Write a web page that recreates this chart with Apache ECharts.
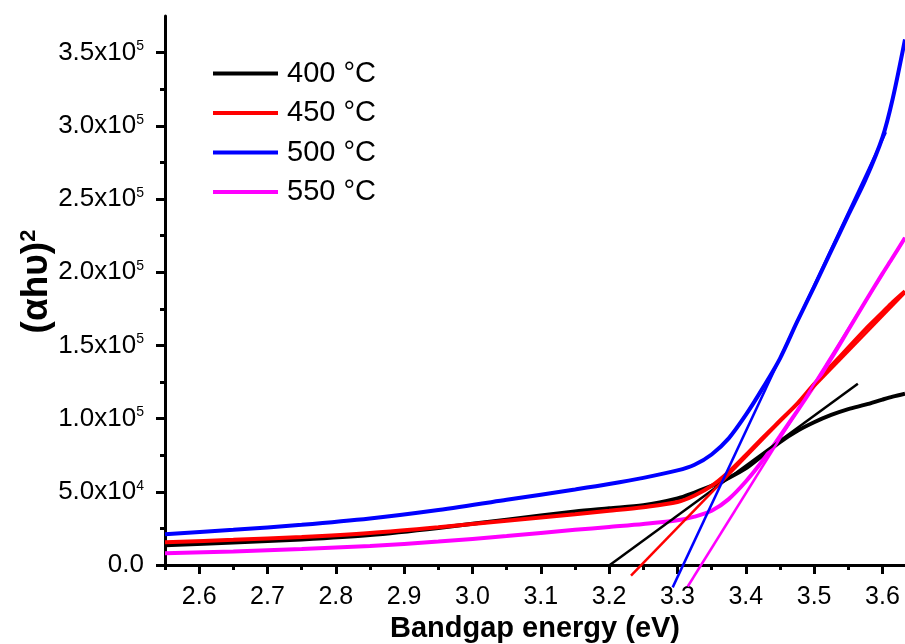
<!DOCTYPE html>
<html>
<head>
<meta charset="utf-8">
<script src="https://cdn.jsdelivr.net/npm/echarts@6/dist/echarts.min.js"></script>
<style>
  html, body { margin: 0; padding: 0; background: #fff; }
  #chart { width: 905px; height: 644px; }
</style>
</head>
<body>
<div id="chart"></div>
<script>
// (αhυ)^2 vs bandgap energy, four annealing temperatures

var energy = [2.55, 2.65, 2.75, 2.85, 2.95, 3.05, 3.15, 3.2, 3.25, 3.3, 3.325, 3.35, 3.375,
              3.4, 3.425, 3.45, 3.475, 3.5, 3.525, 3.55, 3.575, 3.6, 3.615, 3.633];
var t400 = [13500, 15300, 17500, 20500, 25300, 31000, 36600, 38700, 40800, 45500, 49500, 54000, 59500,
            66000, 75000, 84000, 91500, 97500, 102500, 106500, 109500, 113000, 115000, 117000];
var t450 = [15500, 17200, 19200, 21900, 25800, 30300, 34700, 37000, 39500, 43000, 47500, 54000, 63500,
            75000, 87000, 98500, 110000, 123500, 136000, 148500, 161000, 172500, 179500, 187000];
var t500 = [21000, 24000, 27500, 31800, 37600, 44500, 51600, 55300, 59500, 64600, 68500, 75500, 86500,
            102500, 121000, 141000, 166000, 190000, 214500, 239000, 263000, 292000, 318500, 359000];
var t550 = [8000, 9300, 10900, 13000, 16000, 19800, 24000, 26000, 28000, 30500, 33000, 37000, 45000,
            57000, 71500, 88000, 105000, 122500, 141000, 160500, 180000, 199000, 210000, 223500];

// linear fits (tangents), two end points each
var fitE400 = [3.201, 3.564], fitV400 = [0, 123800];
var fitE450 = [3.232, 3.633], fitV450 = [-7200, 185800];
var fitE500 = [3.293, 3.605], fitV500 = [-15300, 295600];
var fitE550 = [3.315, 3.633], fitV550 = [-14700, 223400];

var names = ['400 °C', '450 °C', '500 °C', '550 °C'];
var colors = ['#000000', '#ff0000', '#0000ff', '#ff00ff'];

var xMajorTicks = [2.6, 2.7, 2.8, 2.9, 3.0, 3.1, 3.2, 3.3, 3.4, 3.5, 3.6];
var xMinorTicks = [2.55, 2.65, 2.75, 2.85, 2.95, 3.05, 3.15, 3.25, 3.35, 3.45, 3.55];
var yMajorTicks = [0, 50000, 100000, 150000, 200000, 250000, 300000, 350000];
var yMinorTicks = [25000, 75000, 125000, 175000, 225000, 275000, 325000];

function pairs(xs, ys) {
  return xs.map(function (x, i) { return [x, ys[i]]; });
}

var curves = [t400, t450, t500, t550];
var fits = [[fitE400, fitV400], [fitE450, fitV450], [fitE500, fitV500], [fitE550, fitV550]];

var series = [];
curves.forEach(function (c, i) {
  series.push({
    name: names[i],
    type: 'line',
    data: pairs(energy, c),
    smooth: 0.3,
    showSymbol: false,
    lineStyle: { color: colors[i], width: 4 },
    itemStyle: { color: colors[i] },
    z: 2
  });
});
fits.forEach(function (f, i) {
  series.push({
    name: 'fit' + i,
    type: 'line',
    data: pairs(f[0], f[1]),
    showSymbol: false,
    clip: false,
    lineStyle: { color: colors[i], width: 2.5 },
    itemStyle: { color: colors[i] },
    z: 3
  });
});

function yLabel(v) {
  if (v === 0) return '0.0';
  var e = Math.floor(Math.log10(v) + 1e-9);
  var m = v / Math.pow(10, e);
  return m.toFixed(1) + 'x10{sup|' + e + '}';
}

var tickStyle = { color: '#000', width: 3 };

var chart = echarts.init(document.getElementById('chart'));
chart.setOption({
  backgroundColor: '#ffffff',
  animation: false,
  textStyle: { fontFamily: 'Liberation Sans, Arial, sans-serif' },
  grid: { left: 165, right: 0, top: 16, bottom: 79, outerBoundsMode: 'none', containLabel: false },
  legend: {
    data: names,
    orient: 'vertical',
    left: 213,
    top: 59,
    padding: 0,
    itemWidth: 65,
    itemHeight: 4,
    itemGap: 10.5,
    icon: 'rect',
    textStyle: { fontSize: 29, color: '#000', padding: [0, 0, 0, 4] }
  },
  xAxis: [{
    type: 'value',
    min: 2.55,
    max: 3.633,
    position: 'bottom',
    axisLine: { lineStyle: tickStyle },
    axisTick: { customValues: xMajorTicks, length: 9, lineStyle: tickStyle },
    axisLabel: {
      customValues: xMajorTicks,
      formatter: function (v) { return v.toFixed(1); },
      fontSize: 25, color: '#000', margin: 20
    },
    splitLine: { show: false },
    name: 'Bandgap energy (eV)',
    nameLocation: 'middle',
    nameGap: 49,
    nameMoveOverlap: false,
    nameTextStyle: { fontSize: 29, fontWeight: 'bold', color: '#000' }
  }, {
    type: 'value',
    min: 2.55,
    max: 3.633,
    position: 'bottom',
    axisLine: { show: false },
    axisTick: { customValues: xMinorTicks, length: 5, lineStyle: tickStyle },
    axisLabel: { show: false },
    splitLine: { show: false }
  }],
  yAxis: [{
    type: 'value',
    min: 0,
    max: 375000,
    position: 'left',
    axisLine: { show: true, lineStyle: tickStyle },
    axisTick: { show: true, customValues: yMajorTicks, length: 9, lineStyle: tickStyle },
    axisLabel: {
      customValues: yMajorTicks,
      formatter: yLabel,
      fontSize: 26, color: '#000', margin: 21,
      rich: { sup: { fontSize: 14, verticalAlign: 'top', color: '#000' } }
    },
    splitLine: { show: false },
    name: '(αhυ){sup|2}',
    nameLocation: 'middle',
    nameGap: 110,
    nameMoveOverlap: false,
    nameTextStyle: {
      fontSize: 37, fontWeight: 'bold', color: '#000',
      padding: [0, 0, 0, 18],
      rich: { sup: { fontSize: 22, fontWeight: 'bold', verticalAlign: 'top', color: '#000' } }
    }
  }, {
    type: 'value',
    min: 0,
    max: 375000,
    position: 'left',
    axisLine: { show: false },
    axisTick: { show: true, customValues: yMinorTicks, length: 5, lineStyle: tickStyle },
    axisLabel: { show: false },
    splitLine: { show: false }
  }],
  series: series
});
</script>
</body>
</html>
